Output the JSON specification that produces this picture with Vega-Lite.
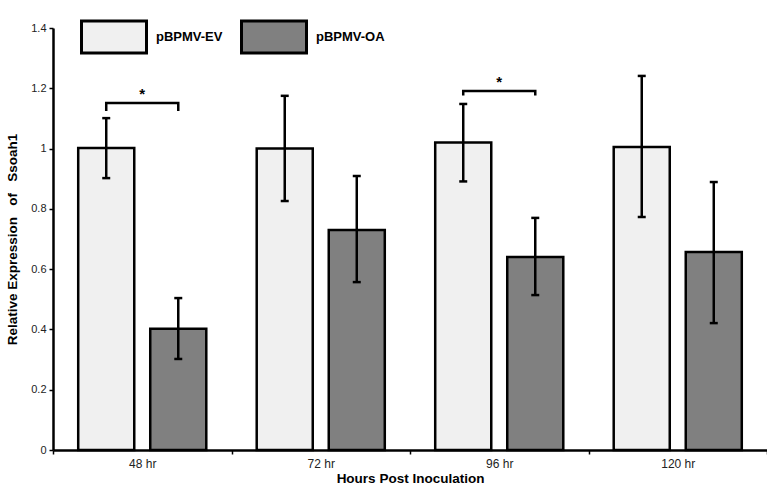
{
  "$schema": "https://vega.github.io/schema/vega-lite/v6.json",
  "width": 714,
  "height": 422,
  "autosize": {"type": "none"},
  "padding": {"left": 53, "top": 28, "right": 0, "bottom": 40},
  "config": {
    "font": "Liberation Sans",
    "view": {"stroke": null},
    "axis": {"grid": false, "domainColor": "black", "domainWidth": 2.5, "tickColor": "black", "tickWidth": 1.5, "tickSize": 4, "labelColor": "#222", "labelFontSize": 11, "titleColor": "black"}
  },
  "datasets": {
    "bars": [
      {"hour": "48 hr", "group": "pBPMV-EV", "value": 1.002, "lo": 0.902, "hi": 1.101},
      {"hour": "48 hr", "group": "pBPMV-OA", "value": 0.402, "lo": 0.302, "hi": 0.504},
      {"hour": "72 hr", "group": "pBPMV-EV", "value": 1.0, "lo": 0.826, "hi": 1.175},
      {"hour": "72 hr", "group": "pBPMV-OA", "value": 0.73, "lo": 0.557, "hi": 0.909},
      {"hour": "96 hr", "group": "pBPMV-EV", "value": 1.02, "lo": 0.891, "hi": 1.148},
      {"hour": "96 hr", "group": "pBPMV-OA", "value": 0.64, "lo": 0.514, "hi": 0.77},
      {"hour": "120 hr", "group": "pBPMV-EV", "value": 1.005, "lo": 0.773, "hi": 1.241},
      {"hour": "120 hr", "group": "pBPMV-OA", "value": 0.657, "lo": 0.421, "hi": 0.889}
    ],
    "brackets": [
      {"id": "b48", "hour": "48 hr", "group": "pBPMV-EV", "y": 1.125, "ord": 0},
      {"id": "b48", "hour": "48 hr", "group": "pBPMV-EV", "y": 1.151, "ord": 1},
      {"id": "b48", "hour": "48 hr", "group": "pBPMV-OA", "y": 1.151, "ord": 2},
      {"id": "b48", "hour": "48 hr", "group": "pBPMV-OA", "y": 1.125, "ord": 3},
      {"id": "b96", "hour": "96 hr", "group": "pBPMV-EV", "y": 1.176, "ord": 0},
      {"id": "b96", "hour": "96 hr", "group": "pBPMV-EV", "y": 1.191, "ord": 1},
      {"id": "b96", "hour": "96 hr", "group": "pBPMV-OA", "y": 1.191, "ord": 2},
      {"id": "b96", "hour": "96 hr", "group": "pBPMV-OA", "y": 1.176, "ord": 3}
    ],
    "stars": [
      {"hour": "48 hr", "y": 1.18, "label": "*"},
      {"hour": "96 hr", "y": 1.22, "label": "*"}
    ]
  },
  "encoding": {
    "x": {
      "field": "hour", "type": "nominal", "sort": ["48 hr", "72 hr", "96 hr", "120 hr"],
      "scale": {"domain": ["48 hr", "72 hr", "96 hr", "120 hr"], "paddingInner": 0, "paddingOuter": 0},
      "axis": {"title": "Hours Post Inoculation", "titleFontSize": 13.5, "titleFontWeight": "bold", "titlePadding": 2, "labelAngle": 0, "labelFontSize": 12, "labelPadding": 4, "tickBand": "extent"}
    }
  },
  "layer": [
    {
      "data": {"name": "bars"},
      "mark": {"type": "bar", "stroke": "black", "strokeWidth": 2.5, "fillOpacity": 1},
      "encoding": {
        "xOffset": {"field": "group", "type": "nominal", "scale": {"domain": ["pBPMV-EV", "pBPMV-OA"], "paddingInner": 0.222, "paddingOuter": 0.35}},
        "y": {
          "field": "value", "type": "quantitative",
          "scale": {"domain": [0, 1.4], "nice": false},
          "axis": {"values": [0, 0.2, 0.4, 0.6, 0.8, 1, 1.2, 1.4], "format": "~g", "title": "Relative Expression\u00a0\u00a0\u00a0of\u00a0\u00a0\u00a0Ssoah1", "titleFontSize": 13.5, "titleFontWeight": "bold", "titlePadding": 11, "labelPadding": 3}
        },
        "color": {
          "field": "group", "type": "nominal",
          "scale": {"domain": ["pBPMV-EV", "pBPMV-OA"], "range": ["#f0f0f0", "#808080"]},
          "legend": {
            "orient": "none", "legendX": 27, "legendY": -25, "direction": "horizontal", "title": null,
            "symbolType": "M-1,-0.49H1V0.49H-1Z", "symbolSize": 4225, "symbolStrokeColor": "black", "symbolStrokeWidth": 3, "symbolOpacity": 1,
            "labelFont": "Liberation Sans", "labelFontSize": 13, "labelFontWeight": "bold", "labelColor": "black", "labelOffset": 8, "columnPadding": 12
          }
        }
      }
    },
    {
      "data": {"name": "bars"},
      "mark": {"type": "rule", "color": "black", "strokeWidth": 2.5},
      "encoding": {
        "xOffset": {"field": "group", "type": "nominal"},
        "y": {"field": "lo", "type": "quantitative"},
        "y2": {"field": "hi"}
      }
    },
    {
      "data": {"name": "bars"},
      "mark": {"type": "tick", "orient": "horizontal", "color": "black", "size": 8, "thickness": 2.5, "opacity": 1},
      "encoding": {
        "xOffset": {"field": "group", "type": "nominal"},
        "y": {"field": "lo", "type": "quantitative"}
      }
    },
    {
      "data": {"name": "bars"},
      "mark": {"type": "tick", "orient": "horizontal", "color": "black", "size": 8, "thickness": 2.5, "opacity": 1},
      "encoding": {
        "xOffset": {"field": "group", "type": "nominal"},
        "y": {"field": "hi", "type": "quantitative"}
      }
    },
    {
      "data": {"name": "brackets"},
      "mark": {"type": "line", "color": "black", "strokeWidth": 2.5, "strokeJoin": "miter"},
      "encoding": {
        "xOffset": {"field": "group", "type": "nominal"},
        "y": {"field": "y", "type": "quantitative"},
        "detail": {"field": "id"},
        "order": {"field": "ord"}
      }
    },
    {
      "data": {"name": "stars"},
      "mark": {"type": "text", "fontSize": 15, "fontWeight": "bold", "color": "black", "baseline": "middle"},
      "encoding": {
        "y": {"field": "y", "type": "quantitative"},
        "text": {"field": "label"}
      }
    }
  ]
}
